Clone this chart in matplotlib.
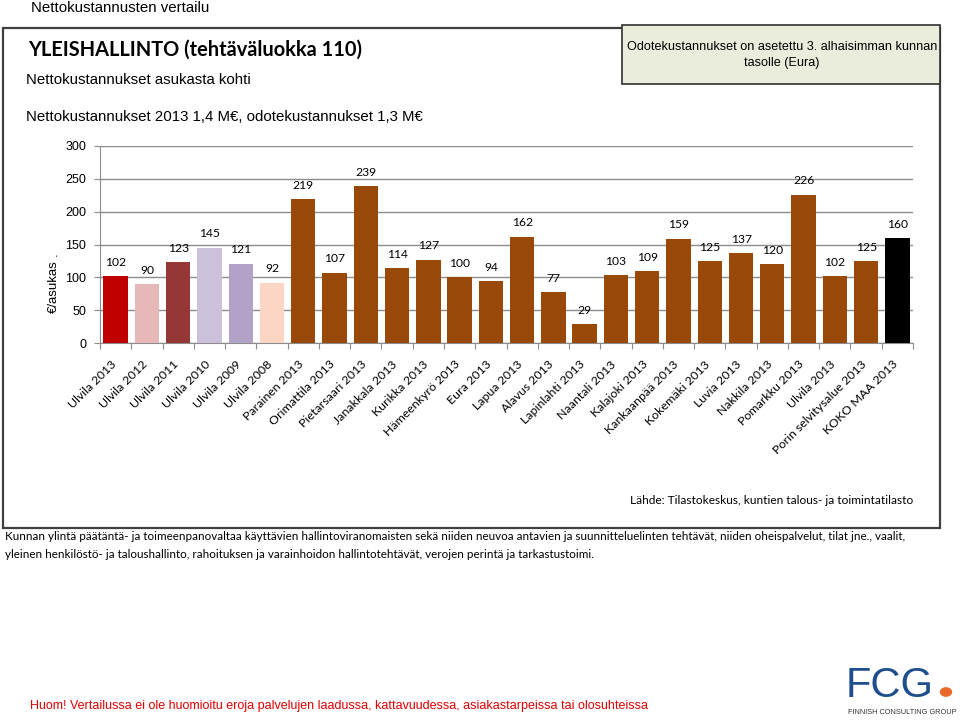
import matplotlib
matplotlib.use("Agg")
import matplotlib.pyplot as plt
from matplotlib.patches import Rectangle, Circle

categories = ["Ulvila 2013", "Ulvila 2012", "Ulvila 2011", "Ulvila 2010", "Ulvila 2009",
              "Ulvila 2008", "Parainen 2013", "Orimattila 2013", "Pietarsaari 2013",
              "Janakkala 2013", "Kurikka 2013", "Hämeenkyrö 2013", "Eura 2013", "Lapua 2013",
              "Alavus 2013", "Lapinlahti 2013", "Naantali 2013", "Kalajoki 2013",
              "Kankaanpää 2013", "Kokemäki 2013", "Luvia 2013", "Nakkila 2013",
              "Pomarkku 2013", "Ulvila 2013", "Porin selvitysalue 2013", "KOKO MAA 2013"]
values = [102, 90, 123, 145, 121, 92, 219, 107, 239, 114, 127, 100, 94, 162, 77, 29,
          103, 109, 159, 125, 137, 120, 226, 102, 125, 160]
colors = ["#C00000", "#E6B9B8", "#953735", "#CCC1DA", "#B3A2C7", "#FCD5C5"] + \
         ["#984807"] * 19 + ["#000000"]

yticks = [0, 50, 100, 150, 200, 250, 300]

fig = plt.figure(figsize=(9.6, 7.2), dpi=100)
W, H = 960, 720

def fx(x):
    return x / W

def fy(y):
    return 1 - y / H

# outer frame
fig.patches.append(Rectangle((fx(3), fy(528)), fx(937), 500 / H, transform=fig.transFigure,
                             fill=False, edgecolor="#404040", linewidth=1.6))
# note box
fig.patches.append(Rectangle((fx(622), fy(84)), fx(318), 59 / H, transform=fig.transFigure,
                             facecolor="#EBEDDC", edgecolor="#303030", linewidth=1.2))
fig.text(fx(782), fy(47), "Odotekustannukset on asetettu 3. alhaisimman kunnan", ha="center",
         va="center", fontsize=9.05, family="Liberation Sans")
fig.text(fx(782), fy(63), "tasolle (Eura)", ha="center", va="center", fontsize=9.05,
         family="Liberation Sans")

fig.text(fx(31), fy(8), "Nettokustannusten vertailu", ha="left", va="center", fontsize=10.8,
         family="Liberation Sans")
fig.text(fx(28), fy(50), "YLEISHALLINTO (tehtäväluokka 110)", ha="left", va="center",
         fontsize=14.4, fontweight="bold", family="Lato")
fig.text(fx(26), fy(80), "Nettokustannukset asukasta kohti", ha="left", va="center",
         fontsize=10.8, family="Liberation Sans")
fig.text(fx(26), fy(117), "Nettokustannukset 2013 1,4 M€, odotekustannukset 1,3 M€", ha="left",
         va="center", fontsize=10.8, family="Liberation Sans")

ax = fig.add_axes([fx(100), fy(343), fx(813), 197 / H])
x = list(range(len(categories)))
bars = ax.bar(x, values, width=0.78, color=colors, zorder=3)
ax.set_xlim(-0.5, len(categories) - 0.5)
ax.set_ylim(0, 300)
ax.set_yticks(yticks)
ax.set_yticklabels([str(t) for t in yticks], family="Liberation Sans", fontsize=9)
ax.yaxis.grid(True, color="#8C8C8C", linewidth=1.0, zorder=0)
for s in ["top", "right"]:
    ax.spines[s].set_visible(False)
ax.spines["left"].set_color("#8C8C8C")
ax.spines["bottom"].set_color("#8C8C8C")
ax.tick_params(axis="y", length=4, color="#8C8C8C", pad=6)
ax.set_xticks([i - 0.5 for i in range(len(categories) + 1)], minor=False)
ax.set_xticklabels([])
ax.tick_params(axis="x", length=4, color="#8C8C8C", direction="out")

for i, (b, v) in enumerate(zip(bars, values)):
    ax.annotate(str(v), (b.get_x() + b.get_width() / 2, v), xytext=(0, 10),
                textcoords="offset points", ha="center", va="center", fontsize=8.7,
                family="Lato")

for i, c in enumerate(categories):
    ax.annotate(c, (i, 0), xytext=(-1, -14), textcoords="offset points", ha="right",
                va="center", rotation=45, rotation_mode="anchor", fontsize=8.9, family="Lato")

fig.text(fx(54), fy(287), "€/asukas", rotation=90, ha="center", va="center", fontsize=9.5,
         family="Liberation Sans")
fig.text(fx(54), fy(254), ".", rotation=90, ha="center", va="center", fontsize=9.5,
         family="Liberation Sans")

fig.text(fx(913), fy(500), "Lähde: Tilastokeskus, kuntien talous- ja toimintatilasto", ha="right",
         va="center", fontsize=8.6, family="Lato")
fig.text(fx(5), fy(537), "Kunnan ylintä päätäntä- ja toimeenpanovaltaa käyttävien hallintoviranomaisten sekä niiden neuvoa antavien ja suunnitteluelinten tehtävät, niiden oheispalvelut, tilat jne., vaalit,",
         ha="left", va="center", fontsize=8.42, family="Lato")
fig.text(fx(5), fy(555), "yleinen henkilöstö- ja taloushallinto, rahoituksen ja varainhoidon hallintotehtävät, verojen perintä ja tarkastustoimi.",
         ha="left", va="center", fontsize=8.42, family="Lato")

fig.text(fx(30), fy(706), "Huom! Vertailussa ei ole huomioitu eroja palvelujen laadussa, kattavuudessa, asiakastarpeissa tai olosuhteissa",
         ha="left", va="center", fontsize=9.03, color="#E00000", family="Liberation Sans")

# logo
fig.text(fx(846), fy(686), "FCG", ha="left", va="center", fontsize=30, color="#1F4E8C",
         family="Liberation Sans")
fig.patches.append(Circle((fx(946), fy(692)), 5.5 / W, transform=fig.transFigure,
                          color="#E8692A"))
fig.text(fx(848), fy(713), "FINNISH CONSULTING GROUP", ha="left", va="center", fontsize=5.3,
         color="#333333", family="Liberation Sans")

fig.savefig("out.png", dpi=100)
